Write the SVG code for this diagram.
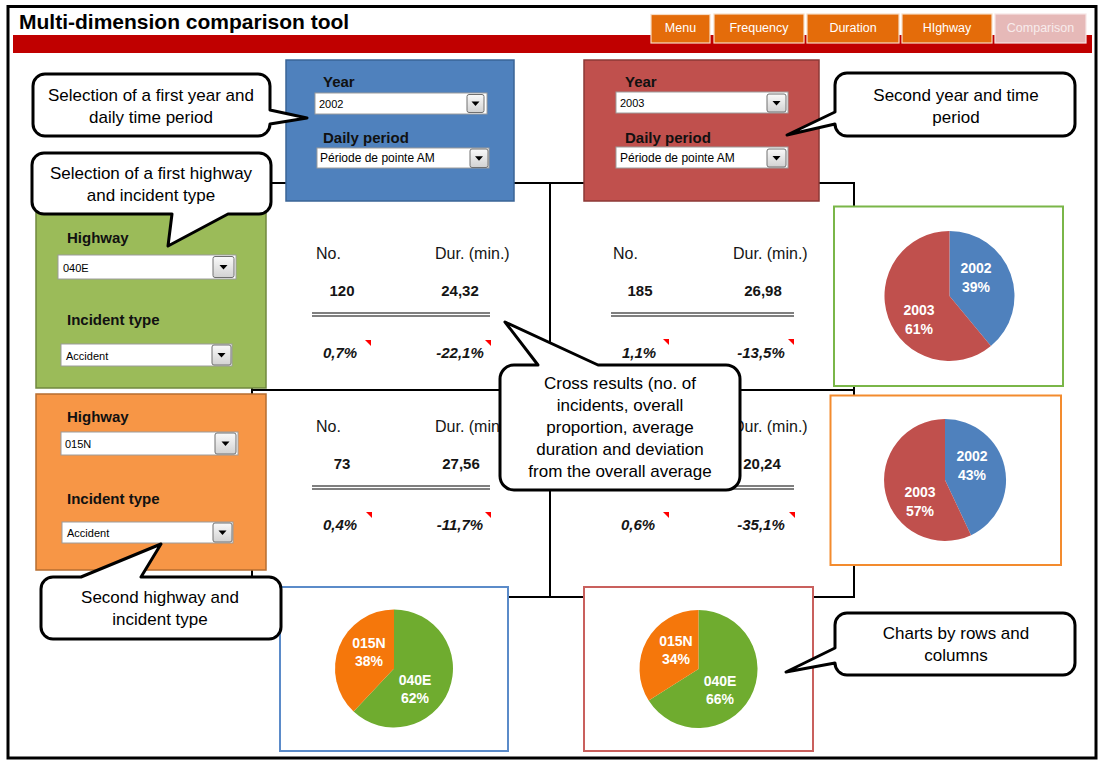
<svg xmlns="http://www.w3.org/2000/svg" width="1103" height="766" viewBox="0 0 1103 766">
<defs>
<linearGradient id="btnGrad" x1="0" y1="0" x2="0" y2="1"><stop offset="0" stop-color="#FAFAFA"/><stop offset="1" stop-color="#D2D2D2"/></linearGradient>
<path id="tri" d="M-4,-2 L4,-2 L0,2.5 Z" fill="#000"/>
<polygon id="mk" points="0,0 6,0 6,6" fill="#FF0000"/>
<style>
text{font-family:"Liberation Sans",Arial,sans-serif;}
.title{font-size:21px;font-weight:bold;fill:#000}
.tab{fill:#E46C0A;stroke:#F7DCC4;stroke-width:1.2}
.tabt{font-size:12.5px;fill:#fff;text-anchor:middle}
.lbl{font-size:15px;font-weight:bold;fill:#111}
.dd{fill:#fff;stroke:#9C9C9C;stroke-width:1}
.btn{fill:url(#btnGrad);stroke:#707070;stroke-width:1}
.ddt{font-size:11px;fill:#000}
.grid{fill:none;stroke:#000;stroke-width:2}
.hd{font-size:16px;fill:#151515}
.val{font-size:15px;font-weight:bold;fill:#151515;text-anchor:middle}
.pct{font-size:15px;font-weight:bold;font-style:italic;fill:#151515;text-anchor:middle}
.dbl{stroke:#000;stroke-width:1.2}
.pl{font-size:14px;font-weight:bold;fill:#fff;text-anchor:middle}
.co{fill:#fff;stroke:#000;stroke-width:3;stroke-linejoin:round}
.cot{font-size:17px;fill:#000;text-anchor:middle}
.chart{fill:#fff;stroke-width:2}
</style>
</defs>

<rect x="0" y="0" width="1103" height="766" fill="#fff"/>

<g id="frame">
<rect x="8" y="6.5" width="1088" height="751.5" fill="none" stroke="#000" stroke-width="3"/>
</g>

<g id="header">
<rect x="13" y="35" width="1079" height="18" fill="#C00000"/>
<text class="title" x="19" y="29">Multi-dimension comparison tool</text>
</g>

<g id="tabs">
<g id="tab-menu"><rect class="tab" x="651" y="14.5" width="59" height="28.5"/><text class="tabt" x="680.5" y="32">Menu</text></g>
<g id="tab-frequency"><rect class="tab" x="714" y="14" width="90" height="29"/><text class="tabt" x="759" y="31.5">Frequency</text></g>
<g id="tab-duration"><rect class="tab" x="807" y="14" width="92" height="29"/><text class="tabt" x="853" y="31.5">Duration</text></g>
<g id="tab-highway"><rect class="tab" x="902" y="14" width="90" height="29"/><text class="tabt" x="947" y="31.5">HIghway</text></g>
<g id="tab-comparison"><rect x="995" y="14" width="91" height="29" fill="#E6B9B8" stroke="#F7E4E4" stroke-width="1.2"/><text class="tabt" x="1040.5" y="31.5" style="fill:#F8ECEC">Comparison</text></g>
</g>

<g id="grid-lines">
<rect class="grid" x="252" y="183" width="602" height="414"/>
<line class="grid" x1="550" y1="183" x2="550" y2="597"/>
<line class="grid" x1="252" y1="390" x2="854" y2="390"/>
</g>

<g id="panel-year1">
<rect x="286" y="60" width="228" height="141" fill="#4F81BD" stroke="#3A6496" stroke-width="1.5"/>
<text class="lbl" x="323" y="87">Year</text>
<rect class="dd" x="315" y="93" width="172" height="21"/>
<text class="ddt" x="319" y="108">2002</text>
<rect class="btn" x="467" y="94.5" width="17" height="18" rx="2"/>
<use href="#tri" x="475.5" y="103.5"/>
<text class="lbl" x="323" y="143">Daily period</text>
<rect class="dd" x="317" y="148" width="172" height="20"/>
<text class="ddt" x="320" y="162" style="font-size:12px">Période de pointe AM</text>
<rect class="btn" x="470" y="149" width="18" height="18.5" rx="2"/>
<use href="#tri" x="479" y="158.3"/>
</g>

<g id="panel-year2">
<rect x="584" y="60" width="235" height="141" fill="#C0504D" stroke="#8C3836" stroke-width="1.5"/>
<text class="lbl" x="625" y="87">Year</text>
<rect class="dd" x="616" y="92" width="172" height="21"/>
<text class="ddt" x="620" y="107">2003</text>
<rect class="btn" x="767" y="94" width="19" height="18" rx="2"/>
<use href="#tri" x="776.5" y="103"/>
<text class="lbl" x="625" y="143">Daily period</text>
<rect class="dd" x="616" y="147" width="172" height="21"/>
<text class="ddt" x="620" y="162" style="font-size:12px">Période de pointe AM</text>
<rect class="btn" x="767" y="149" width="19" height="18" rx="2"/>
<use href="#tri" x="776.5" y="158"/>
</g>

<g id="panel-highway1">
<rect x="36" y="205" width="230" height="183" fill="#9BBB59" stroke="#71893F" stroke-width="1.5"/>
<text class="lbl" x="67" y="243">Highway</text>
<rect class="dd" x="58" y="255" width="178" height="24"/>
<text class="ddt" x="63" y="272">040E</text>
<rect class="btn" x="213" y="256.5" width="21" height="21" rx="2"/>
<use href="#tri" x="223.5" y="267"/>
<text class="lbl" x="67" y="325">Incident type</text>
<rect class="dd" x="61" y="344" width="171" height="22"/>
<text class="ddt" x="66" y="360">Accident</text>
<rect class="btn" x="212" y="345" width="19" height="20" rx="2"/>
<use href="#tri" x="221.5" y="355"/>
</g>

<g id="panel-highway2">
<rect x="36" y="394" width="230" height="176" fill="#F79646" stroke="#B66D31" stroke-width="1.5"/>
<text class="lbl" x="67" y="422">Highway</text>
<rect class="dd" x="61" y="432" width="177" height="23"/>
<text class="ddt" x="65" y="448">015N</text>
<rect class="btn" x="215" y="433" width="21" height="21" rx="2"/>
<use href="#tri" x="225.5" y="443.5"/>
<text class="lbl" x="67" y="504">Incident type</text>
<rect class="dd" x="62" y="522" width="171" height="21"/>
<text class="ddt" x="67" y="537">Accident</text>
<rect class="btn" x="213" y="523" width="19" height="19" rx="2"/>
<use href="#tri" x="222.5" y="532.5"/>
</g>

<g id="cell-1-1">
<text class="hd" x="316" y="259">No.</text>
<text class="hd" x="435" y="259">Dur. (min.)</text>
<text class="val" x="342" y="296">120</text>
<text class="val" x="460" y="296">24,32</text>
<line class="dbl" x1="312" y1="313" x2="490" y2="313"/>
<line class="dbl" x1="312" y1="316" x2="490" y2="316"/>
<text class="pct" x="340" y="358">0,7%</text>
<text class="pct" x="460" y="358">-22,1%</text>
<use href="#mk" x="365" y="340"/>
<use href="#mk" x="485" y="340"/>
</g>

<g id="cell-1-2">
<text class="hd" x="613" y="259">No.</text>
<text class="hd" x="733" y="259">Dur. (min.)</text>
<text class="val" x="640" y="296">185</text>
<text class="val" x="763" y="296">26,98</text>
<line class="dbl" x1="611" y1="313" x2="794" y2="313"/>
<line class="dbl" x1="611" y1="316" x2="794" y2="316"/>
<text class="pct" x="639" y="358">1,1%</text>
<text class="pct" x="761" y="358">-13,5%</text>
<use href="#mk" x="663" y="339"/>
<use href="#mk" x="788" y="339"/>
</g>

<g id="cell-2-1">
<text class="hd" x="316" y="432">No.</text>
<text class="hd" x="435" y="432">Dur. (min.)</text>
<text class="val" x="342" y="469">73</text>
<text class="val" x="461" y="469">27,56</text>
<line class="dbl" x1="312" y1="486" x2="490" y2="486"/>
<line class="dbl" x1="312" y1="489" x2="490" y2="489"/>
<text class="pct" x="340" y="530">0,4%</text>
<text class="pct" x="460" y="530">-11,7%</text>
<use href="#mk" x="366" y="512"/>
<use href="#mk" x="485" y="512"/>
</g>

<g id="cell-2-2">
<text class="hd" x="733" y="432">Dur. (min.)</text>
<text class="val" x="762" y="469">20,24</text>
<line class="dbl" x1="611" y1="486" x2="794" y2="486"/>
<line class="dbl" x1="611" y1="489" x2="794" y2="489"/>
<text class="pct" x="638" y="530">0,6%</text>
<text class="pct" x="761" y="530">-35,1%</text>
<use href="#mk" x="663" y="512"/>
<use href="#mk" x="789" y="512"/>
</g>

<g id="chart-row1">
<rect class="chart" x="834" y="206.5" width="229" height="179.5" stroke="#7AB648"/>
<path d="M949.5,296 L949.5,231 A65,65 0 0 1 990.9,346.1 Z" fill="#4F81BD"/>
<path d="M949.5,296 L990.9,346.1 A65,65 0 1 1 949.5,231 Z" fill="#C0504D"/>
<text class="pl" x="976" y="273">2002</text>
<text class="pl" x="976" y="292">39%</text>
<text class="pl" x="919" y="315">2003</text>
<text class="pl" x="919" y="334">61%</text>
</g>

<g id="chart-row2">
<rect class="chart" x="830.5" y="395.5" width="230.5" height="169.5" stroke="#F38B2E"/>
<path d="M945,480 L945,419 A61,61 0 0 1 971,535.2 Z" fill="#4F81BD"/>
<path d="M945,480 L971,535.2 A61,61 0 1 1 945,419 Z" fill="#C0504D"/>
<text class="pl" x="972" y="461">2002</text>
<text class="pl" x="972" y="480">43%</text>
<text class="pl" x="920" y="497">2003</text>
<text class="pl" x="920" y="516">57%</text>
</g>

<g id="chart-col1">
<rect class="chart" x="280" y="587" width="228" height="164" stroke="#5B8BC9"/>
<path d="M394,668.5 L394,609.5 A59,59 0 1 1 353.6,711.5 Z" fill="#6FAC2F"/>
<path d="M394,668.5 L353.6,711.5 A59,59 0 0 1 394,609.5 Z" fill="#F5770B"/>
<text class="pl" x="369" y="648">015N</text>
<text class="pl" x="369" y="666">38%</text>
<text class="pl" x="415" y="685">040E</text>
<text class="pl" x="415" y="703">62%</text>
</g>

<g id="chart-col2">
<rect class="chart" x="584" y="587" width="229" height="164" stroke="#C9605D"/>
<path d="M698.5,669 L698.5,610 A59,59 0 1 1 648.7,700.6 Z" fill="#6FAC2F"/>
<path d="M698.5,669 L648.7,700.6 A59,59 0 0 1 698.5,610 Z" fill="#F5770B"/>
<text class="pl" x="676" y="646">015N</text>
<text class="pl" x="676" y="664">34%</text>
<text class="pl" x="720" y="686">040E</text>
<text class="pl" x="720" y="704">66%</text>
</g>

<g id="callout-year1">
<path class="co" d="M45,74 H258 A12,12 0 0 1 270,86 V110 L307,118 L270,124 A12,12 0 0 1 258,136 H45 A12,12 0 0 1 33,124 V86 A12,12 0 0 1 45,74 Z"/>
<text class="cot" x="151" y="101">Selection of a first year and</text>
<text class="cot" x="151" y="123">daily time period</text>
</g>

<g id="callout-highway1">
<path class="co" d="M44,153 H259 A12,12 0 0 1 271,165 V202 A12,12 0 0 1 259,214 H228 L168,246 L172,214 H44 A12,12 0 0 1 32,202 V165 A12,12 0 0 1 44,153 Z"/>
<text class="cot" x="151" y="179">Selection of a first highway</text>
<text class="cot" x="151" y="201">and incident type</text>
</g>

<g id="callout-year2">
<path class="co" d="M847,73 H1063 A12,12 0 0 1 1075,85 V124 A12,12 0 0 1 1063,136 H847 A12,12 0 0 1 835,124 L787,135 L835,112 V85 A12,12 0 0 1 847,73 Z"/>
<text class="cot" x="956" y="101">Second year and time</text>
<text class="cot" x="956" y="123">period</text>
</g>

<g id="callout-cross">
<path class="co" d="M514,365 H538 L505,322 L598,365 H726 A14,14 0 0 1 740,379 V476 A14,14 0 0 1 726,490 H514 A14,14 0 0 1 500,476 V379 A14,14 0 0 1 514,365 Z"/>
<text class="cot" x="620" y="389">Cross results (no. of</text>
<text class="cot" x="620" y="411">incidents, overall</text>
<text class="cot" x="620" y="433">proportion, average</text>
<text class="cot" x="620" y="455">duration and deviation</text>
<text class="cot" x="620" y="477">from the overall average</text>
</g>

<g id="callout-highway2">
<path class="co" d="M53,577 H81 L161,544 L141,577 H269 A12,12 0 0 1 281,589 V627 A12,12 0 0 1 269,639 H53 A12,12 0 0 1 41,627 V589 A12,12 0 0 1 53,577 Z"/>
<text class="cot" x="160" y="603">Second highway and</text>
<text class="cot" x="160" y="625">incident type</text>
</g>

<g id="callout-charts">
<path class="co" d="M847,613 H1063 A12,12 0 0 1 1075,625 V663 A12,12 0 0 1 1063,675 H847 A12,12 0 0 1 835,663 L786,672 L835,648 V625 A12,12 0 0 1 847,613 Z"/>
<text class="cot" x="956" y="639">Charts by rows and</text>
<text class="cot" x="956" y="661">columns</text>
</g>
</svg>
